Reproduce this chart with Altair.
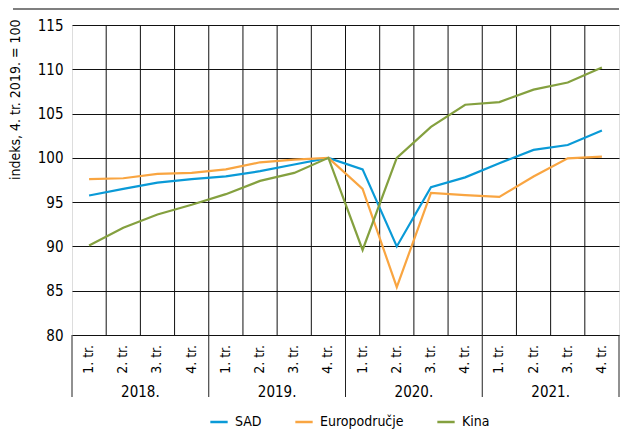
import altair as alt
import pandas as pd

quarters = ["1. tr.", "2. tr.", "3. tr.", "4. tr."]
years = ["2018.", "2019.", "2020.", "2021."]
series_names = ["SAD", "Europodručje", "Kina"]
sad = [95.75, 96.5, 97.2, 97.6, 97.9, 98.5, 99.25, 100.0, 98.7, 90.0, 96.7, 97.8, 99.4, 100.9, 101.45, 103.1]
euro = [97.6, 97.7, 98.2, 98.3, 98.7, 99.5, 99.8, 100.0, 96.5, 85.4, 96.05, 95.8, 95.6, 97.9, 99.95, 100.15]
kina = [90.1, 92.1, 93.6, 94.7, 95.9, 97.4, 98.3, 100.0, 89.6, 100.0, 103.5, 106.0, 106.3, 107.7, 108.5, 110.2]
colors = ["#0a9ad7", "#f9a541", "#84a03f"]

FONT = "'DejaVu Sans Condensed', Roboto, sans-serif"
W, H = 547, 310

rows = []
for name, vals in zip(series_names, [sad, euro, kina]):
    for i, v in enumerate(vals):
        rows.append({"i": i, "v": v, "s": name})
df = pd.DataFrame(rows)

qdf = pd.DataFrame([{"i": y * 4 + q, "lab": quarters[q]} for y in range(4) for q in range(4)])
ydf = pd.DataFrame([{"i": y * 4 + 1.5, "lab": years[y]} for y in range(4)])
sep = pd.DataFrame({"i": [-0.5, 3.5, 7.5, 11.5, 15.5]})
vgrid = pd.DataFrame({"i": [k + 0.5 for k in range(15)]})

xs = alt.Scale(domain=[-0.5, 15.5], nice=False, zero=False)
ys = alt.Scale(domain=[80, 115], nice=False, zero=False)

grid = alt.Chart(vgrid).mark_rule(color="#111", strokeWidth=1).encode(
    x=alt.X("i:Q", scale=xs, axis=None), y=alt.value(0), y2=alt.value(H))

lines = alt.Chart(df).mark_line(strokeWidth=2.2).encode(
    x=alt.X("i:Q", scale=xs, axis=None),
    y=alt.Y("v:Q", scale=ys, axis=alt.Axis(values=list(range(80, 116, 5)), ticks=False, domain=False,
                                           grid=True, gridColor="#111", gridWidth=1,
                                           labelFont=FONT, labelFontSize=15, labelColor="black", labelPadding=9,
                                           title="indeks, 4. tr. 2019. = 100", titleFont=FONT, titleFontSize=14,
                                           titleFontWeight="normal", titleColor="black",
                                           titleAnchor="end", titleY=-6, titleX=-50, titleAlign="right")),
    color=alt.Color("s:N", scale=alt.Scale(domain=series_names, range=colors), sort=series_names,
                    legend=alt.Legend(orient="none", legendX=137, legendY=387, direction="horizontal",
                                      title=None, symbolType="stroke", symbolStrokeWidth=2.5, symbolSize=300,
                                      labelFont=FONT, labelFontSize=14, labelColor="black",
                                      columnPadding=28, labelOffset=6, padding=0)),
)

qlab = alt.Chart(qdf).mark_text(angle=270, align="right", baseline="middle", font=FONT, fontSize=14,
                                color="black").encode(
    x=alt.X("i:Q", scale=xs), y=alt.value(H + 10), text="lab:N")

ylab = alt.Chart(ydf).mark_text(align="center", baseline="middle", font=FONT, fontSize=15,
                                color="black").encode(
    x=alt.X("i:Q", scale=xs), y=alt.value(H + 57), text="lab:N")

seps = alt.Chart(sep).mark_rule(color="#222", strokeWidth=1).encode(
    x=alt.X("i:Q", scale=xs), y=alt.value(H), y2=alt.value(H + 62))

topline = alt.Chart(pd.DataFrame({"a": [0]})).mark_rule(color="#555", strokeWidth=1.5).encode(
    x=alt.value(-59), x2=alt.value(W), y=alt.value(-16))

chart = alt.layer(grid, lines, qlab, ylab, seps, topline).properties(
    width=W, height=H,
    autosize=alt.AutoSizeParams(type="none"),
    padding={"left": 64, "top": 17, "right": 1, "bottom": 96},
).configure_view(stroke="#111", strokeWidth=1.5).configure(font=FONT)

chart.save("out.html", embed_options={"renderer": "svg", "actions": False})
